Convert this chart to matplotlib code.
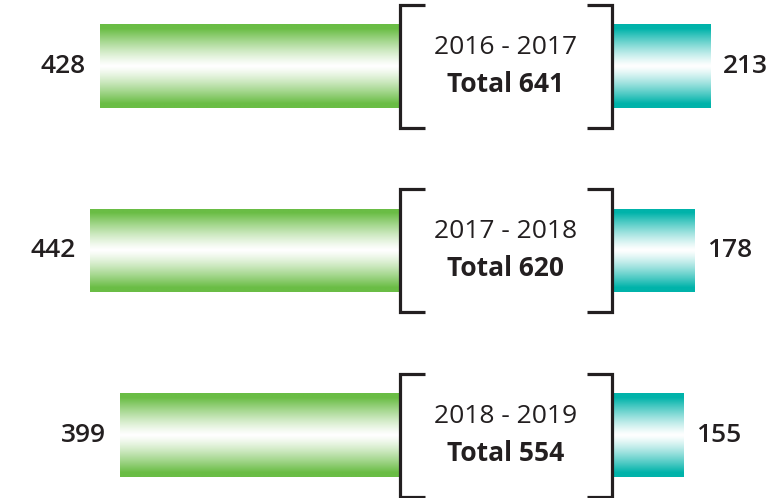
import numpy as np
import matplotlib
matplotlib.use("Agg")
import matplotlib.pyplot as plt
from matplotlib.colors import to_rgb

# ---- data ----
periods = ["2016 - 2017", "2017 - 2018", "2018 - 2019"]
left_values = [428, 442, 399]
right_values = [213, 178, 155]
totals = [641, 620, 554]

GREEN = "#6abd45"
TEAL = "#00b3aa"
DARK = "#231f20"
FONT = ["Open Sans", "DejaVu Sans"]

W, H = 778, 498
fig = plt.figure(figsize=(W / 100, H / 100), dpi=100)

# row layout (index -> pixel: 66 + 184.5*i)
row0, step = 66.0, 184.5
ylim = ((H - row0) / step, -row0 / step)
bar_h = 84 / step

# left axes: green bars extending leftward from x=400px
axL = fig.add_axes([0, 0, 400 / W, 1])
axL.set_xlim(400 / 0.702, 0)
axL.set_ylim(*ylim)
axL.axis("off")

# right axes: teal bars extending rightward from x=612px
axR = fig.add_axes([612 / W, 0, (W - 612) / W, 1])
axR.set_xlim(0, (W - 612) / 0.4615)
axR.set_ylim(*ylim)
axR.axis("off")

# overlay axes in pixel coords for brackets & central text
axO = fig.add_axes([0, 0, 1, 1])
axO.set_xlim(0, W)
axO.set_ylim(H, 0)
axO.axis("off")
axO.patch.set_alpha(0)


def gradient_img(color, n=256):
    c = np.array(to_rgb(color))
    t = np.abs(np.linspace(-1, 1, n))
    f = np.clip(t * 1.12, 0, 1) ** 1.25
    img = (1 - f)[:, None] * np.ones(3)[None, :] + f[:, None] * c[None, :]
    return img[:, None, :]


def draw_bars(ax, values, color):
    bars = ax.barh(range(len(values)), values, height=bar_h, color="none")
    for b in bars:
        x0, y0 = b.get_x(), b.get_y()
        w, h = b.get_width(), b.get_height()
        im = ax.imshow(gradient_img(color), extent=[x0, x0 + w, y0 + h, y0],
                       aspect="auto", interpolation="bilinear", zorder=1)
        im.set_clip_path(b)
    ax.set_xlim(ax.get_xlim())
    ax.set_ylim(*ylim)
    return bars


barsL = draw_bars(axL, left_values, GREEN)
barsR = draw_bars(axR, right_values, TEAL)

for i, v in enumerate(left_values):
    axL.annotate(str(v), xy=(v, i), xytext=(-10, 0), textcoords="offset points",
                 ha="right", va="center", fontsize=19, fontweight="semibold",
                 color=DARK, family=FONT)
for i, v in enumerate(right_values):
    axR.annotate(str(v), xy=(v, i), xytext=(9, 0), textcoords="offset points",
                 ha="left", va="center", fontsize=19, fontweight="semibold",
                 color=DARK, family=FONT)

# brackets and central labels
for i, (p, t) in enumerate(zip(periods, totals)):
    yc = row0 + step * i
    top, bot = yc - 61.5, yc + 61.5
    axO.plot([425, 400, 400, 425], [top, top, bot, bot], color=DARK, lw=2.3,
             solid_joinstyle="miter", solid_capstyle="butt")
    axO.plot([587, 612, 612, 587], [top, top, bot, bot], color=DARK, lw=2.3,
             solid_joinstyle="miter", solid_capstyle="butt")
    axO.text(506, yc - 19, p, ha="center", va="center", fontsize=19,
             fontweight="normal", color=DARK, family=FONT)
    axO.text(506, yc + 18, f"Total {t}", ha="center", va="center", fontsize=19,
             fontweight="bold", color=DARK, family=FONT)

fig.savefig("out.png", dpi=100)
